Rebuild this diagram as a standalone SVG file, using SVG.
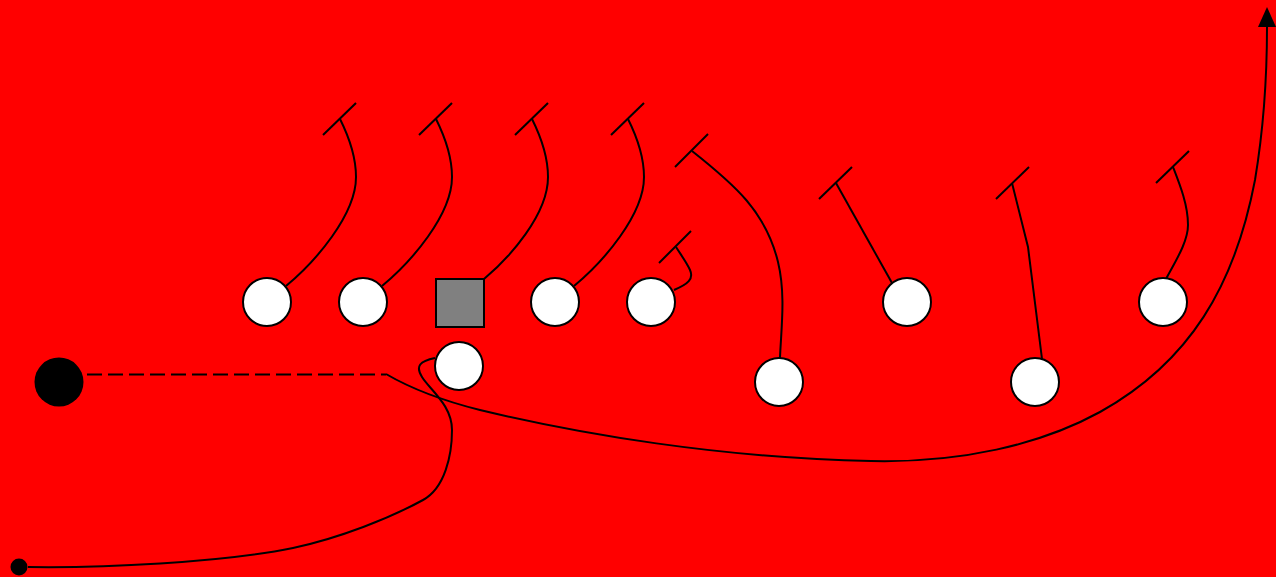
<svg xmlns="http://www.w3.org/2000/svg" width="1276" height="577" viewBox="0 0 1276 577">
<defs>
<style>
.pl{fill:#fff;stroke:#000;stroke-width:2}
.rt{fill:none;stroke:#000;stroke-width:2}
.dash{stroke-dasharray:15 6}
</style>
<marker id="arr" markerUnits="userSpaceOnUse" markerWidth="20" markerHeight="18" viewBox="0 0 20 18" refX="0" refY="9" orient="auto">
<path d="M0,0 L20,9 L0,18 z" fill="#000"/>
</marker>
</defs>
<rect width="1276" height="577" fill="#ff0000"/>
<g id="connectors">
<path class="rt" d="M286,286 C315,262 356,215 356,177 C356,155 348,135 340,119"/>
<line class="rt" x1="323" y1="135" x2="356" y2="103"/>
<path class="rt" d="M382,286 C411,262 452,215 452,177 C452,155 444,135 436,119"/>
<line class="rt" x1="419" y1="135" x2="452" y2="103"/>
<path class="rt" d="M484,279 C509,258 548,215 548,177 C548,155 540,135 532,119"/>
<line class="rt" x1="515" y1="135" x2="548" y2="103"/>
<path class="rt" d="M574,286 C603,262 644,215 644,177 C644,155 636,135 628,119"/>
<line class="rt" x1="611" y1="135" x2="644" y2="103"/>
<path class="rt" d="M674,290 C688,284 694,279 690,270 C687,263 681,255 676,247"/>
<line class="rt" x1="659" y1="263" x2="691" y2="231"/>
<path class="rt" d="M780,358 C781,330 786,295 778,262 C766,212 735,185 692,151"/>
<line class="rt" x1="675" y1="167" x2="708" y2="134"/>
<line class="rt" x1="892" y1="283" x2="836" y2="183"/>
<line class="rt" x1="819" y1="199" x2="852" y2="167"/>
<polyline class="rt" points="1042,359 1028,247 1012,183"/>
<line class="rt" x1="996" y1="199" x2="1029" y2="167"/>
<path class="rt" d="M1166,279 C1175,262 1188,242 1188,225 C1188,205 1180,185 1173,167"/>
<line class="rt" x1="1156" y1="183" x2="1189" y2="151"/>
<line class="rt dash" x1="87" y1="374.5" x2="386" y2="374.5"/>
<path class="rt" marker-end="url(#arr)" d="M386,374 C410,388 440,400 480,410 C580,434 720,458 871,461 C960,463 1040,445 1100,412 C1190,362 1235,285 1255,180 C1265,120 1267,70 1267,27"/>
<path class="rt" d="M28,567 C100,568 220,563 293,548 C340,538 390,518 423,500 C445,488 452,455 452,430 C452,405 430,390 422,377 C415,366 420,361 435,358"/>
</g>
<g id="n1"><circle class="pl" cx="267" cy="302" r="24"/></g>
<g id="n2"><circle class="pl" cx="363" cy="302" r="24"/></g>
<g id="center"><rect x="436" y="279" width="48" height="48" fill="#808080" stroke="#000" stroke-width="2"/></g>
<g id="n3"><circle class="pl" cx="555" cy="302" r="24"/></g>
<g id="n4"><circle class="pl" cx="651" cy="302" r="24"/></g>
<g id="n5"><circle class="pl" cx="907" cy="302" r="24"/></g>
<g id="n6"><circle class="pl" cx="1163" cy="302" r="24"/></g>
<g id="n7"><circle class="pl" cx="459" cy="366" r="24"/></g>
<g id="n8"><circle class="pl" cx="779" cy="382" r="24"/></g>
<g id="n9"><circle class="pl" cx="1035" cy="382" r="24"/></g>
<g id="ball"><circle cx="59" cy="382" r="24.5" fill="#000"/></g>
<g id="dot"><circle cx="19" cy="567" r="8.5" fill="#000"/></g>
</svg>
